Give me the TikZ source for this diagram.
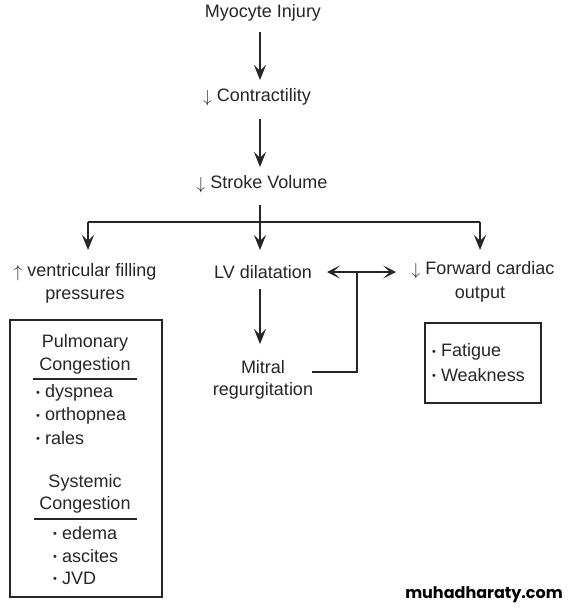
\documentclass[tikz,border=0pt]{standalone}
\usepackage{fontspec}
\setmainfont{Liberation Sans}
\newfontfamily\wmfont{Poppins}[UprightFont=* Bold]
\usetikzlibrary{arrows.meta}
\newcommand{\dnarr}{\raisebox{-0.5pt}{$\downarrow$}}
\newcommand{\uparr}{\raisebox{-0.5pt}{$\uparrow$}}
\newcommand{\bul}{{\fontsize{11}{11}\selectfont\raisebox{1.5pt}{•}}}
\begin{document}
\begin{tikzpicture}[x=1pt,y=-1pt,
  every node/.style={font=\fontsize{18}{22}\selectfont, inner sep=0pt, text=black!85},
  lbl/.style={anchor=center, align=center},
  flow/.style={line width=1.4pt, draw=black!85, -{Stealth[length=15pt,width=12pt,inset=6pt]}},
  conn/.style={line width=1.4pt, draw=black!85},
  twohead/.style={line width=1.4pt, draw=black!85, {Stealth[length=13pt,width=13pt,inset=7pt]}-{Stealth[length=13pt,width=13pt,inset=7pt]}},
  boxy/.style={draw=black!85, line width=1.3pt},
  uline/.style={line width=1.5pt, draw=black!85}]
\useasboundingbox (0,0) rectangle (569,608);
\fill[white] (0,0) rectangle (569,608);

\node[lbl] (myo) at (263,13) {Myocyte Injury};
\node[lbl] (con) at (257,97) {\dnarr\ Contractility};
\node[lbl] (sv) at (262,184) {\dnarr\ Stroke Volume};
\draw[flow] (260,32) -- (260,80);
\draw[flow] (260,119) -- (260,167);

\coordinate (t0) at (260,205);
\coordinate (tj) at (260,222);
\coordinate (tl) at (88,222);
\coordinate (tr) at (480,222);
\draw[conn] (t0) -- (tj);
\draw[conn] (tl) -- (tr);
\draw[flow] (tl) -- (88,250);
\draw[flow] (tj) -- (260,250);
\draw[flow] (tr) -- (480,250);

\node[lbl] (vfp1) at (85,272) {\uparr\ ventricular filling};
\node[lbl] (vfp2) at (85,297) {pressures};
\node[lbl] (lv) at (263,272) {LV dilatation};
\node[lbl] (fco1) at (483,270) {\dnarr\ Forward cardiac};
\node[lbl] (fco2) at (480,295) {output};

\draw[twohead] (327,272) -- (396,272);
\coordinate (mj) at (357,272);
\coordinate (mb) at (357,372);
\coordinate (me) at (312,372);
\draw[conn] (mj) -- (mb) -- (me);

\draw[flow] (260,289) -- (260,344);
\node[lbl] (mr1) at (263,367) {Mitral};
\node[lbl] (mr2) at (263,391) {regurgitation};

% left box
\draw[boxy] (10,320) rectangle (162,597);
\node[lbl] (pc1) at (85,343) {Pulmonary};
\node[lbl] (pc2) at (85,366) {Congestion};
\draw[uline] (33,379) -- (137,379);
\node[anchor=west] (b1) at (36,393) {\bul\ dyspnea};
\node[anchor=west] (b2) at (36,416) {\bul\ orthopnea};
\node[anchor=west] (b3) at (36,438) {\bul\ rales};
\node[lbl] (sc1) at (85,483) {Systemic};
\node[lbl] (sc2) at (85,505) {Congestion};
\draw[uline] (34,519) -- (137,519);
\node[anchor=west] (b4) at (53,533) {\bul\ edema};
\node[anchor=west] (b5) at (53,556) {\bul\ ascites};
\node[anchor=west] (b6) at (53,578) {\bul\ JVD};

% right box
\draw[boxy] (425,323) rectangle (541,403);
\node[anchor=west] (f1) at (432,352) {\bul\ Fatigue};
\node[anchor=west] (f2) at (432,375) {\bul\ Weakness};

\node[anchor=east, font=\wmfont\fontsize{16}{18}\selectfont, text=black] (wm) at (563,595) {muhadharaty.com};
\end{tikzpicture}
\end{document}
